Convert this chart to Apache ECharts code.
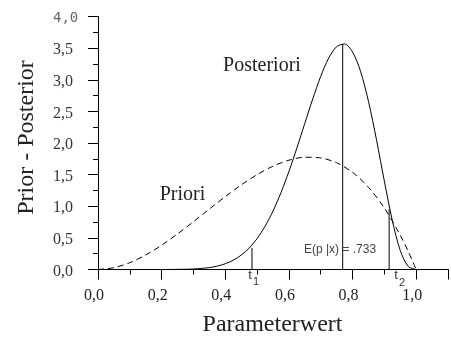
<!DOCTYPE html>
<html>
<head>
<meta charset="utf-8">
<script src="https://cdn.jsdelivr.net/npm/echarts@6/dist/echarts.min.js"></script>
<style>
  html, body { margin: 0; padding: 0; background: #fff; }
  #chart { width: 451px; height: 338px; }
</style>
</head>
<body>
<div id="chart"></div>
<script>
// prior density (dashed)
const priorX = [0, 0.05, 0.1, 0.15, 0.2, 0.25, 0.3, 0.35, 0.4, 0.45, 0.5, 0.55, 0.6, 0.65, 0.7, 0.75, 0.8, 0.85, 0.9, 0.95, 0.975, 1.0];
const priorY = [0, 0.029, 0.108, 0.23, 0.384, 0.563, 0.756, 0.956, 1.152, 1.337, 1.5, 1.634, 1.728, 1.775, 1.764, 1.688, 1.536, 1.3, 0.972, 0.542, 0.285, 0];

// posterior density (solid)
const postX = [0, 0.1, 0.2, 0.25, 0.3, 0.35, 0.375, 0.4, 0.425, 0.45, 0.475, 0.5, 0.525, 0.55, 0.575, 0.6, 0.625, 0.65, 0.675, 0.7, 0.725, 0.75, 0.775, 0.8, 0.825, 0.85, 0.875, 0.9, 0.925, 0.95, 0.975, 1.0];
const postY = [0, 0, 0, 0.002, 0.008, 0.03, 0.054, 0.091, 0.146, 0.227, 0.338, 0.489, 0.683, 0.924, 1.215, 1.55, 1.92, 2.311, 2.698, 3.054, 3.342, 3.523, 3.565, 3.439, 3.135, 2.66, 2.058, 1.396, 0.775, 0.3, 0.049, 0];

// vertical markers: position and height
const t1 = [0.484, 0.34];
const modeLine = [0.769, 3.565];
const t2 = [0.915, 0.95];

const xTicks = [0, 0.2, 0.4, 0.6, 0.8, 1.0];
const yTicks = [0, 0.5, 1, 1.5, 2, 2.5, 3, 3.5, 4];

const serif = 'Liberation Serif';
const sans = 'Liberation Sans';
const fmt = v => v.toFixed(1).replace('.', ',');

const chart = echarts.init(document.getElementById('chart'));

const vline = (m) => ({
  type: 'line',
  data: [[m[0], 0], [m[0], m[1]]],
  symbol: 'none',
  silent: true,
  lineStyle: { color: '#000', width: 1 }
});

chart.setOption({
  animation: false,
  backgroundColor: '#fff',
  textStyle: { fontFamily: serif },
  grid: { left: 98, right: -1.75, top: 16.5, bottom: 68.5 },
  xAxis: [
    {
      type: 'value', min: 0, max: 1.1, interval: 0.2,
      axisLine: { lineStyle: { color: '#000', width: 1 } },
      axisTick: { length: 10, lineStyle: { color: '#000' } },
      splitLine: { show: false },
      axisLabel: {
        margin: 18, fontFamily: serif, fontSize: 16, color: '#222',
        padding: [0, 8, 0, 0],
        formatter: v => xTicks.some(t => Math.abs(t - v) < 1e-6) ? fmt(v) : ''
      }
    },
    {
      type: 'value', min: 0, max: 1.1, interval: 0.1, position: 'bottom',
      axisLine: { show: false },
      axisTick: { length: 5, lineStyle: { color: '#000' } },
      splitLine: { show: false },
      axisLabel: { show: false }
    }
  ],
  yAxis: {
    type: 'value', min: 0, max: 4, interval: 0.5,
    axisLine: { show: true, lineStyle: { color: '#000', width: 1 } },
    axisTick: { show: true, length: 10, lineStyle: { color: '#000' } },
    minorTick: { show: true, splitNumber: 2, length: 5, lineStyle: { color: '#000' } },
    splitLine: { show: false },
    axisLabel: {
      margin: 45, align: 'left', fontFamily: serif, fontSize: 16, color: '#333',
      padding: [4, 0, 0, 0],
      formatter: v => yTicks.indexOf(v) < 0 ? '' : (v === 4 ? '{m|' + fmt(v) + '}' : '{s|' + fmt(v) + '}'),
      rich: {
        m: { fontFamily: 'DejaVu Sans Mono', fontSize: 14, color: '#666' },
        s: { fontFamily: serif, fontSize: 16, color: '#333' }
      }
    }
  },
  series: [
    {
      type: 'line',
      data: priorX.map((x, i) => [x, priorY[i]]),
      smooth: 0.3, symbol: 'none', silent: true,
      lineStyle: { color: '#000', width: 1, type: [6, 4] }
    },
    {
      type: 'line',
      data: postX.map((x, i) => [x, postY[i]]),
      smooth: 0.3, symbol: 'none', silent: true,
      lineStyle: { color: '#000', width: 1 }
    },
    vline(t1),
    vline(modeLine),
    vline(t2)
  ],
  graphic: [
    { type: 'text', x: 27, y: 137.5, rotation: Math.PI / 2,
      style: { text: 'Prior - Posterior', fontFamily: serif, fontSize: 24, fill: '#222', align: 'center', verticalAlign: 'middle' } },
    { type: 'text', x: 272.5, y: 325,
      style: { text: 'Parameterwert', fontFamily: serif, fontSize: 24, fill: '#222', align: 'center', verticalAlign: 'middle' } },
    { type: 'text', x: 262, y: 66,
      style: { text: 'Posteriori', fontFamily: serif, fontSize: 20, fill: '#222', align: 'center', verticalAlign: 'middle' } },
    { type: 'text', x: 182.5, y: 195,
      style: { text: 'Priori', fontFamily: serif, fontSize: 20, fill: '#222', align: 'center', verticalAlign: 'middle' } },
    { type: 'text', x: 340, y: 250,
      style: { text: 'E(p |x) = .733', fontFamily: sans, fontSize: 12, fill: '#444', align: 'center', verticalAlign: 'middle' } },
    { type: 'text', x: 250, y: 275,
      style: { text: 't', fontFamily: sans, fontSize: 13, fill: '#333', align: 'center', verticalAlign: 'middle' } },
    { type: 'text', x: 256, y: 282,
      style: { text: '1', fontFamily: sans, fontSize: 11, fill: '#333', align: 'center', verticalAlign: 'middle' } },
    { type: 'text', x: 396, y: 275,
      style: { text: 't', fontFamily: sans, fontSize: 13, fill: '#333', align: 'center', verticalAlign: 'middle' } },
    { type: 'text', x: 402, y: 283,
      style: { text: '2', fontFamily: sans, fontSize: 11, fill: '#333', align: 'center', verticalAlign: 'middle' } }
  ]
});
</script>
</body>
</html>
